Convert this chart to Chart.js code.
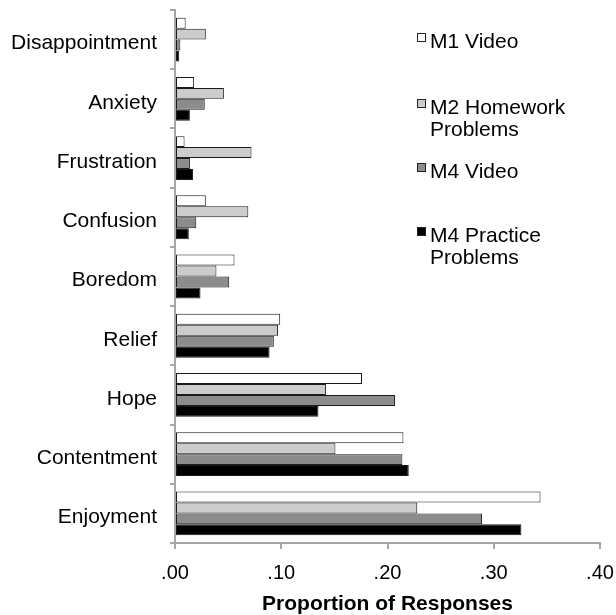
<!DOCTYPE html>
<html>
<head>
<meta charset="utf-8">
<script src="https://cdn.jsdelivr.net/npm/chart.js@4/dist/chart.umd.min.js"></script>
<style>
html,body{margin:0;padding:0;background:#fff;}
#wrap{width:616px;height:615px;position:relative;}
</style>
</head>
<body>
<div id="wrap"><canvas id="c" width="616" height="615"></canvas></div>
<script>
const categories = ['Disappointment','Anxiety','Frustration','Confusion','Boredom','Relief','Hope','Contentment','Enjoyment'];
const seriesNames = ['M1 Video','M2 Homework Problems','M4 Video','M4 Practice Problems'];
const m1Video = [0.010, 0.018, 0.009, 0.029, 0.056, 0.099, 0.176, 0.215, 0.344];
const m2Homework = [0.029, 0.046, 0.072, 0.069, 0.039, 0.097, 0.142, 0.151, 0.228];
const m4Video = [0.005, 0.028, 0.014, 0.020, 0.051, 0.093, 0.207, 0.214, 0.289];
const m4Practice = [0.004, 0.014, 0.017, 0.013, 0.024, 0.089, 0.135, 0.220, 0.326];
const xTickLabels = ['.00','.10','.20','.30','.40'];
const xTitle = 'Proportion of Responses';

const FONT = '"Liberation Sans", Arial, Helvetica, sans-serif';
const fills = ['#ffffff','#cccccc','#8c8c8c','#000000'];
const legendLines = [['M1 Video'],['M2 Homework','Problems'],['M4 Video'],['M4 Practice','Problems']];
const legendTops = [33, 99, 163, 227];

const legendPlugin = {
  id: 'customLegend',
  afterDraw(chart) {
    const ctx = chart.ctx;
    ctx.save();
    ctx.font = '21px ' + FONT;
    ctx.textAlign = 'left';
    ctx.textBaseline = 'alphabetic';
    chart.data.datasets.forEach((ds, i) => {
      const top = legendTops[i];
      ctx.fillStyle = ds.backgroundColor;
      ctx.fillRect(417, top, 9, 9);
      ctx.strokeStyle = '#222';
      ctx.lineWidth = 1;
      ctx.strokeRect(417.5, top + 0.5, 8, 8);
      ctx.fillStyle = '#000';
      legendLines[i].forEach((line, j) => {
        ctx.fillText(line, 430, top + 15 + j * 22);
      });
    });
    ctx.restore();
  }
};

const datasets = [m1Video, m2Homework, m4Video, m4Practice].map((vals, i) => ({
  label: seriesNames[i],
  data: vals,
  backgroundColor: fills[i],
  borderColor: '#1a1a1a',
  borderWidth: 1,
  borderSkipped: false,
  categoryPercentage: 0.74,
  barPercentage: 1.0
}));

new Chart(document.getElementById('c'), {
  type: 'bar',
  data: { labels: categories, datasets },
  plugins: [legendPlugin],
  options: {
    indexAxis: 'y',
    responsive: false,
    animation: false,
    devicePixelRatio: 1,
    layout: { padding: { top: 10, right: 16, bottom: 0, left: 0 } },
    plugins: { legend: { display: false }, tooltip: { enabled: false } },
    scales: {
      x: {
        min: 0, max: 0.4,
        ticks: {
          stepSize: 0.1,
          color: '#000',
          font: { family: FONT, size: 20 },
          padding: 12,
          callback: (v, idx) => xTickLabels[idx]
        },
        grid: { drawOnChartArea: false, drawTicks: true, tickLength: 6, color: '#a6a6a6', lineWidth: 2 },
        border: { color: '#a6a6a6', width: 2 },
        title: {
          display: true, text: xTitle, color: '#000',
          font: { family: FONT, size: 21, weight: 'bold', lineHeight: 1.0 },
          padding: { top: 0, bottom: 0 }
        },
        afterFit: (s) => { s.height = 72; s.paddingLeft = 0; s.paddingRight = 0; }
      },
      y: {
        ticks: { color: '#000', font: { family: FONT, size: 21 }, padding: 13, labelOffset: 4 },
        grid: { drawOnChartArea: false, drawTicks: true, tickLength: 5, color: '#a6a6a6', lineWidth: 2, offset: true },
        border: { color: '#a6a6a6', width: 2 },
        afterFit: (s) => { s.width = 175; s.paddingTop = 0; s.paddingBottom = 0; }
      }
    }
  }
});
</script>
</body>
</html>
